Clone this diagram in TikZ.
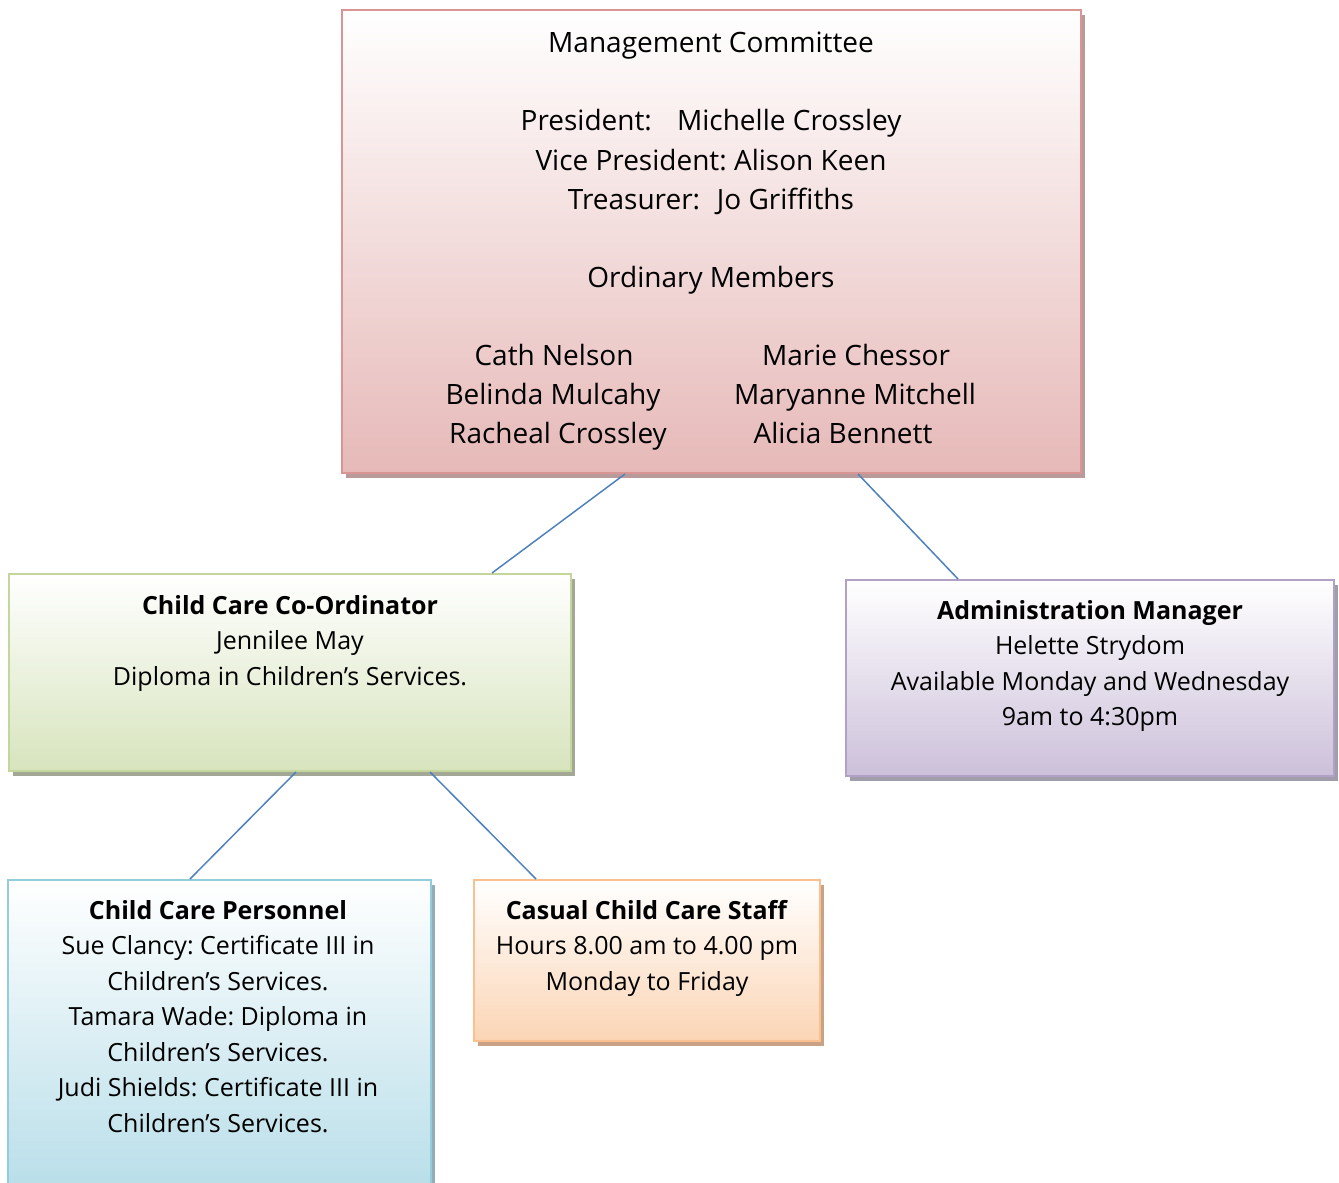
\documentclass[tikz,border=0pt]{standalone}
\usepackage{fontspec}
\setmainfont{Open Sans}
\frenchspacing
\usetikzlibrary{shadows}
\definecolor{mcB}{HTML}{D99594}\definecolor{mcF}{HTML}{E6B9B8}\definecolor{mcS}{HTML}{B99A9B}
\definecolor{grB}{HTML}{C3D69B}\definecolor{grF}{HTML}{D7E4BD}\definecolor{grS}{HTML}{A3A896}
\definecolor{puB}{HTML}{B2A1C7}\definecolor{puF}{HTML}{CCC0DA}\definecolor{puS}{HTML}{A29DAA}
\definecolor{blB}{HTML}{92CDDC}\definecolor{blF}{HTML}{B6DDE8}\definecolor{blS}{HTML}{93AEB6}
\definecolor{orB}{HTML}{FAC090}\definecolor{orF}{HTML}{FBD5B5}\definecolor{orS}{HTML}{C9A184}
\definecolor{conn}{HTML}{4F81BD}
\tikzset{
  box/.style={rectangle, inner sep=0pt, line width=2pt, top color=white},
  shd/.style={drop shadow={shadow xshift=4pt, shadow yshift=-5pt, fill=#1, opacity=1}},
  big/.style={font=\fontsize{28}{39}\selectfont\frenchspacing, align=center, inner sep=0pt},
  sml/.style={font=\fontsize{25}{35.5}\selectfont\frenchspacing, align=center, inner sep=0pt},
  link/.style={draw=conn, line width=1.5pt}
}
\begin{document}
\begin{tikzpicture}[x=1pt,y=-1pt]
\useasboundingbox (0,0) rectangle (1339,1183);
% boxes
\node[box, shd=mcS, draw=mcB, bottom color=mcF, minimum width=739pt, minimum height=463pt] (mc) at (711.5,241.5) {};
\node[box, shd=grS, draw=grB, bottom color=grF, minimum width=562pt, minimum height=197pt] (co) at (290,672.5) {};
\node[box, shd=puS, draw=puB, bottom color=puF, minimum width=488pt, minimum height=196pt] (ad) at (1090,678) {};
\node[box, shd=blS, draw=blB, bottom color=blF, minimum width=423pt, minimum height=320pt] (pe) at (219.5,1040) {};
\node[box, shd=orS, draw=orB, bottom color=orF, minimum width=346pt, minimum height=161pt] (ca) at (647,960.5) {};
% connectors
\coordinate (mcL) at (625,474); \coordinate (coT) at (492,573);
\coordinate (mcR) at (858,474); \coordinate (adT) at (958,579);
\coordinate (coL) at (296,772); \coordinate (peT) at (190,879);
\coordinate (coR) at (430,772); \coordinate (caT) at (536,879);
\draw[link] (mcL) -- (coT);
\draw[link] (mcR) -- (adT);
\draw[link] (coL) -- (peT);
\draw[link] (coR) -- (caT);
% texts
\node[big, anchor=mid] (mct) at (711,50) {Management Committee};
\node[big, anchor=mid] (mcp) at (711,128) {President:\hspace{0.9em}Michelle Crossley};
\node[big, anchor=mid] (mcv) at (711,168) {Vice President: Alison Keen};
\node[big, anchor=mid] (mctr) at (711,207) {Treasurer:\hspace{0.6em}Jo Griffiths};
\node[big, anchor=mid] (mco) at (711,285) {Ordinary Members};
\node[big, anchor=mid] (m1) at (554,363) {Cath Nelson};
\node[big, anchor=mid] (m2) at (553,402) {Belinda Mulcahy};
\node[big, anchor=mid] (m3) at (558,441) {Racheal Crossley};
\node[big, anchor=mid] (m4) at (856,363) {Marie Chessor};
\node[big, anchor=mid] (m5) at (855,402) {Maryanne Mitchell};
\node[big, anchor=mid] (m6) at (843,441) {Alicia Bennett};
\node[sml, anchor=north] (cot) at (290,595) {\textbf{Child Care Co-Ordinator}\\Jennilee May\\Diploma in Children’s Services.};
\node[sml, anchor=north] (adt) at (1090,600) {\textbf{Administration Manager}\\Helette Strydom\\Available Monday and Wednesday\\9am to 4:30pm};
\node[sml, anchor=north] (pet) at (218,900) {\textbf{Child Care Personnel}\\Sue Clancy: Certificate III in\\Children’s Services.\\Tamara Wade: Diploma in\\Children’s Services.\\Judi Shields: Certificate III in\\Children’s Services.};
\node[sml, anchor=north] (cat) at (647,900) {\textbf{Casual Child Care Staff}\\Hours 8.00 am to 4.00 pm\\Monday to Friday};
\end{tikzpicture}
\end{document}
